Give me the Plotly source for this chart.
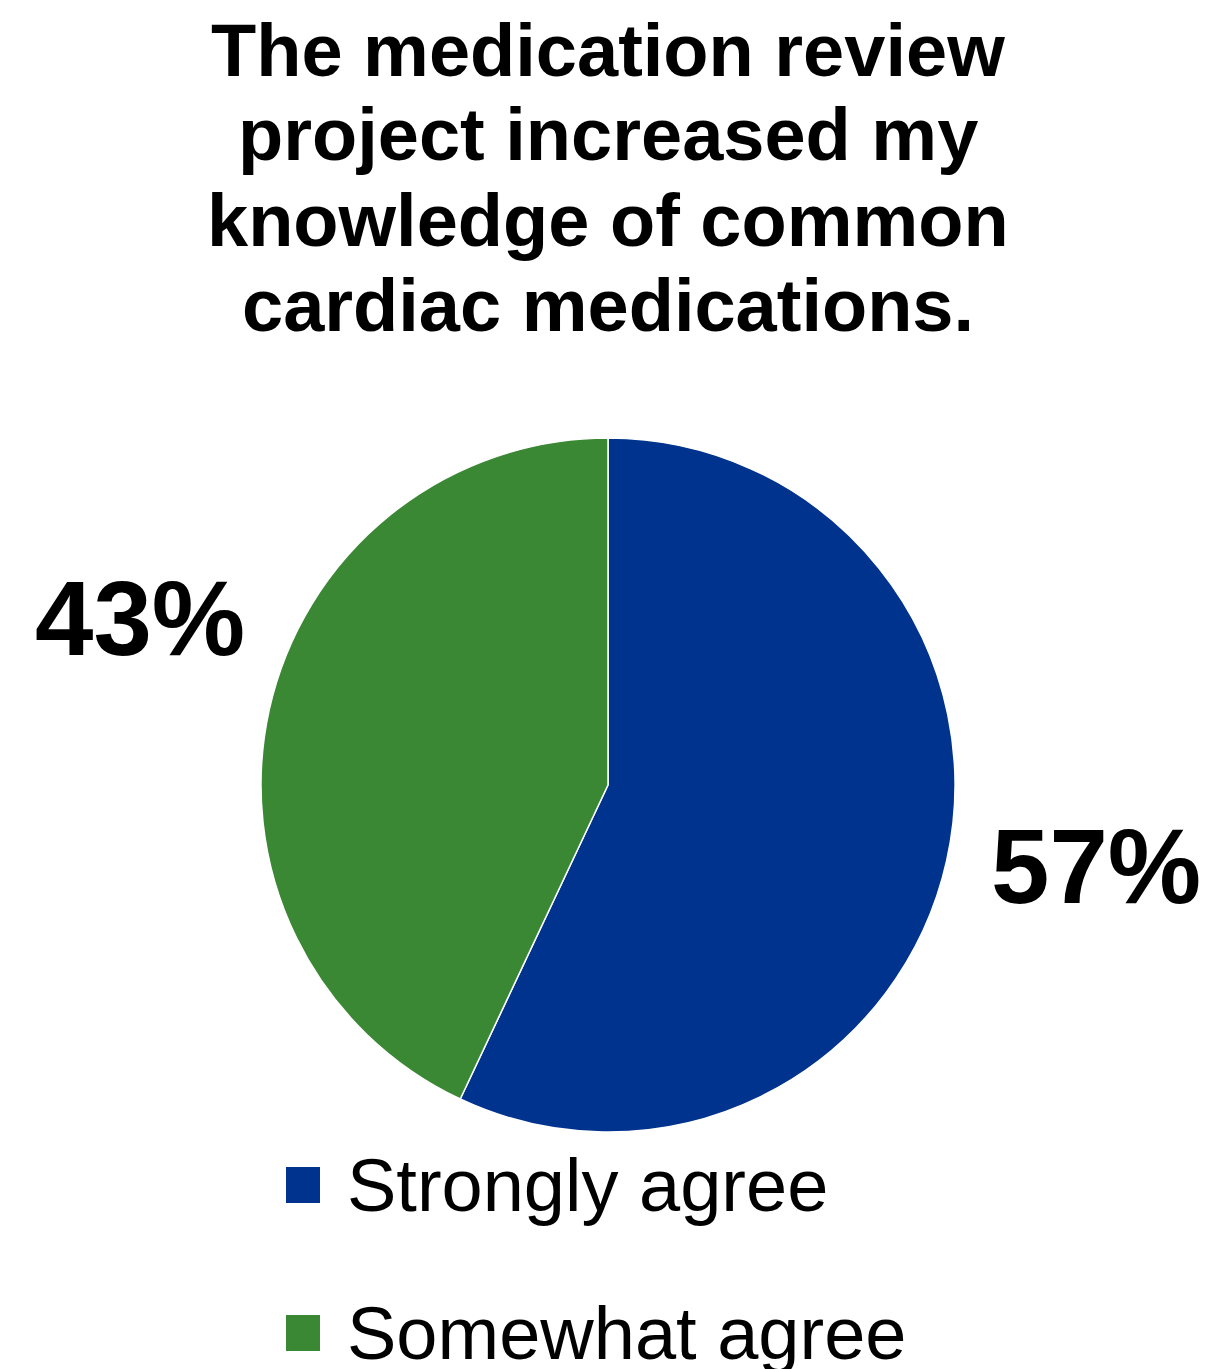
import plotly.graph_objects as go

W, H = 1212, 1369

title_lines = ["The medication review", "project increased my",
               "knowledge of common", "cardiac medications."]
categories = ["Strongly agree", "Somewhat agree"]
values = [57, 43]
colors = ["#00338D", "#3A8833"]

# page body margin offset (browser default 8px)
OFF = 8

def px(x):
    return (x - OFF) / W

def py(y):
    return 1 - (y - OFF) / H

fig = go.Figure()
fig.add_trace(go.Pie(
    labels=categories, values=values, sort=False, direction="clockwise",
    rotation=0, marker=dict(colors=colors, line=dict(color="white", width=1.5)),
    textinfo="none", hoverinfo="label+percent", showlegend=False,
    domain=dict(x=[px(608 - 347), px(608 + 347)], y=[py(785 + 347), py(785 - 347)]),
))

annotations = []
title_font = dict(family="Liberation Sans, Arial, sans-serif", size=74, color="black")
for i, line in enumerate(title_lines):
    annotations.append(dict(
        text="<b>%s</b>" % line, x=px(608), y=py(50 + 85 * i), xref="paper", yref="paper",
        xanchor="center", yanchor="middle", showarrow=False, font=title_font))

total = sum(values)
label_pos = [(1096, 866), (140, 618)]
for v, (lx, ly) in zip(values, label_pos):
    annotations.append(dict(
        text="<b>%d%%</b>" % round(100 * v / total), x=px(lx), y=py(ly),
        xref="paper", yref="paper", xanchor="center", yanchor="middle",
        showarrow=False,
        font=dict(family="Liberation Sans, Arial, sans-serif", size=105, color="black")))

shapes = []
legend_rows = [1185, 1333]
for cat, col, ry in zip(categories, colors, legend_rows):
    shapes.append(dict(type="rect", xref="paper", yref="paper",
                       x0=px(286), x1=px(320), y0=py(ry - 18), y1=py(ry + 18),
                       fillcolor=col, line=dict(width=0)))
    annotations.append(dict(
        text=cat, x=px(345), y=py(ry), xref="paper", yref="paper",
        xanchor="left", yanchor="middle", showarrow=False,
        font=dict(family="Liberation Sans, Arial, sans-serif", size=74, color="black")))

fig.update_layout(
    width=W, height=H, margin=dict(l=0, r=0, t=0, b=0),
    paper_bgcolor="white", plot_bgcolor="white",
    annotations=annotations, shapes=shapes, showlegend=False,
)

fig.write_html("out.html")
